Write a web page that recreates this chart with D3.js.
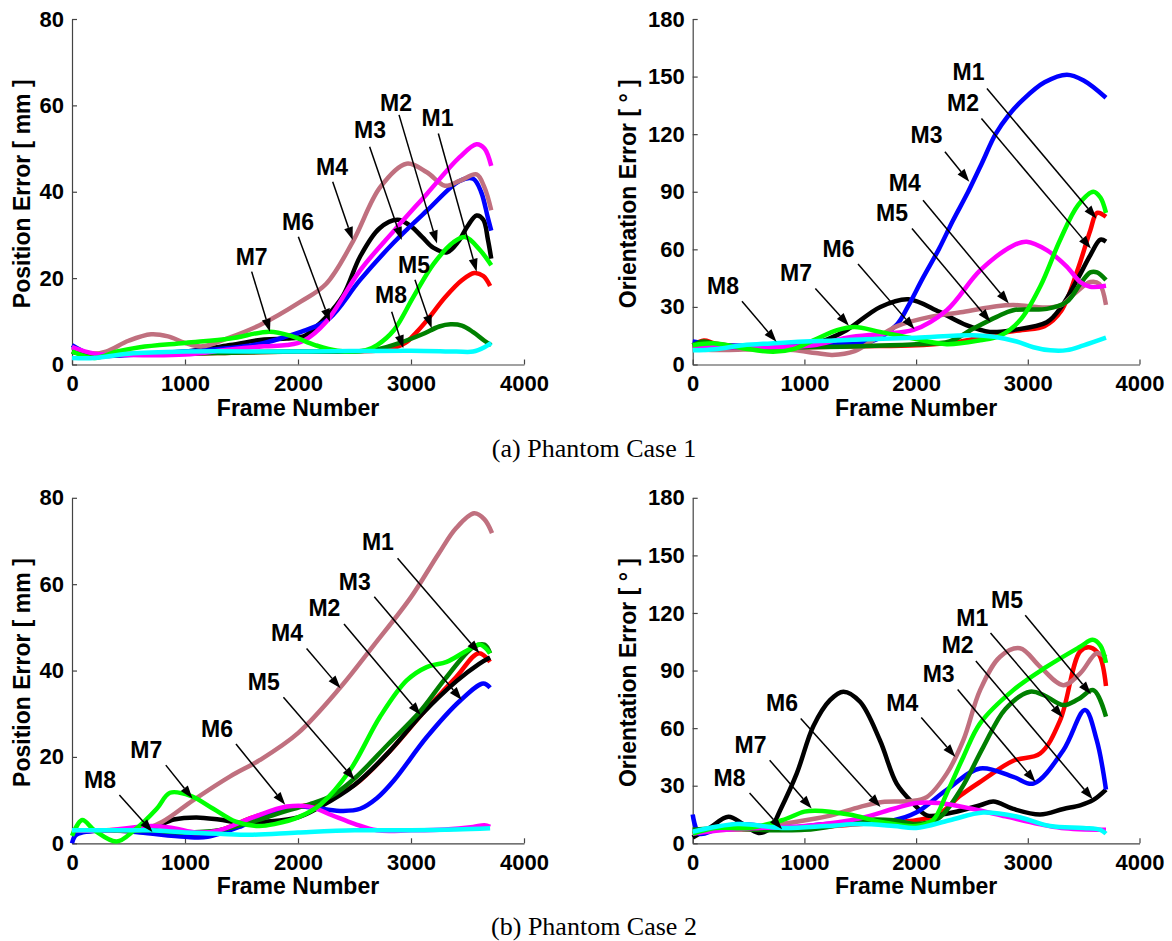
<!DOCTYPE html>
<html>
<head>
<meta charset="utf-8">
<script src="https://cdn.jsdelivr.net/npm/d3@7"></script>
<style>
  body { margin: 0; background: #fff; }
  text { font-family: "Liberation Sans", Arial, sans-serif; font-weight: bold; fill: #000; }
  .caption { font-family: "Liberation Serif", "Times New Roman", serif; font-weight: normal; }
</style>
</head>
<body>
<svg id="chart" width="1172" height="941"></svg>
<script>
const FRAME_TICKS = [0, 1000, 2000, 3000, 4000]
const POS_TICKS = [0, 20, 40, 60, 80]
const ORI_TICKS = [0, 30, 60, 90, 120, 150, 180]
const METHODS = ["M1", "M2", "M3", "M4", "M5", "M6", "M7", "M8"]
const METHOD_COLORS = ["#ff0000", "#000000", "#0000ff", "#c0707f", "#008000", "#ff00ff", "#00ff00", "#00ffff"]

// ---- (a) case 1, position error [mm] : [frame, value]
const pos1_M1 = [[0,3],[200,2.5],[600,2.5],[1000,2.5],[1500,2.8],[2000,3],[2400,3],[2800,3.5],[2950,5],[3050,7.5],[3150,10.5],[3300,15.5],[3450,19.5],[3560,21.2],[3640,20.5],[3700,18.2]]
const pos1_M2 = [[0,3],[200,2],[600,2.5],[1000,3],[1400,4.5],[1700,5.8],[1900,6],[2050,6.5],[2150,8.5],[2250,11],[2400,16],[2550,25],[2720,31.5],[2880,33.5],[3000,32],[3100,29.5],[3200,27],[3320,26],[3420,28.5],[3500,32],[3580,34.5],[3640,33.5],[3680,29],[3710,24.5]]
const pos1_M3 = [[0,4.5],[150,2.5],[300,2],[700,2.5],[1000,3],[1400,3.8],[1700,5],[1900,6.5],[2050,7.8],[2270,10.5],[2550,19.6],[2850,28.3],[3140,35.6],[3430,42.5],[3550,43],[3620,40],[3680,34],[3710,31]]
const pos1_M4 = [[0,4],[150,2.5],[300,3],[500,5.5],[700,7],[850,6.5],[1000,5],[1150,4.2],[1370,6],[1660,9.1],[2020,14.5],[2250,18.7],[2490,28.7],[2726,41],[2960,46.5],[3140,44.5],[3300,41.4],[3430,42.5],[3580,44],[3650,41],[3710,35.7]]
const pos1_M5 = [[0,3],[200,2],[600,2.5],[1000,2.5],[1500,2.8],[2000,3],[2500,3],[2700,3.5],[2900,5],[3100,7],[3250,8.8],[3350,9.3],[3450,9],[3550,7.5],[3650,5.5],[3710,4.5]]
const pos1_M6 = [[0,4],[200,2.5],[500,2.2],[1000,2.3],[1400,3.5],[1700,4.2],[1900,4.5],[2050,5.5],[2250,9.9],[2550,21.8],[2850,31],[3140,39.5],[3430,48],[3580,51],[3650,50],[3710,46]]
const pos1_M7 = [[0,3],[200,1.5],[400,3],[600,4],[1000,5],[1400,6],[1750,7.6],[1950,6.5],[2150,4.5],[2350,3.2],[2600,3.3],[2700,4.5],[2850,8],[3020,15.6],[3200,23.3],[3375,28.3],[3480,29.5],[3610,26.5],[3710,23]]
const pos1_M8 = [[0,1.5],[200,1.5],[500,2.5],[1000,3],[2000,3],[3000,3.2],[3400,3],[3550,3],[3650,4],[3710,5]]

// ---- (a) case 1, orientation error [deg]
const ori1_M1 = [[0,10],[100,12.5],[200,11],[500,9],[1000,9],[1500,9.5],[2000,10],[2400,12],[2700,16],[2950,18],[3150,20],[3300,28],[3450,50],[3560,70],[3620,79],[3700,77]]
const ori1_M2 = [[0,10],[500,9],[1000,10],[1200,13],[1380,18],[1680,30],[1930,34],[2210,27.4],[2450,20.5],[2660,17],[2870,18],[3170,22],[3300,30],[3450,45],[3560,57],[3650,65],[3700,64]]
const ori1_M3 = [[0,12],[300,10],[800,10],[1300,10.5],[1600,12],[1830,21],[1925,30],[2060,45],[2203,60],[2330,75],[2466,90],[2590,105],[2711,120],[2830,130],[2957,138],[3150,147],[3350,151],[3500,148],[3700,139]]
const ori1_M4 = [[0,8],[300,7.5],[600,8],[900,7.5],[1100,6],[1250,5],[1450,7],[1650,14],[1830,20],[2125,24.8],[2420,27.4],[2720,30.4],[2870,31],[3170,29.7],[3300,31],[3420,37],[3560,43],[3640,42],[3700,31]]
const ori1_M5 = [[0,10],[100,12],[300,9],[700,9],[1000,9],[1500,9.5],[2000,10.5],[2300,12],[2513,18.7],[2722,24.8],[2870,28.3],[3170,29],[3350,32.7],[3470,42],[3560,48],[3620,48],[3700,44]]
const ori1_M6 = [[0,10],[300,9],[780,9.2],[1080,10],[1380,14],[1700,16],[1976,18],[2274,28.3],[2573,49],[2870,62],[2990,64],[3170,59.6],[3349,51],[3469,43],[3558,40.5],[3700,41]]
const ori1_M7 = [[0,10],[200,11],[450,8.5],[720,6.6],[900,8],[1080,12.6],[1300,18],[1450,19.5],[1676,17],[1976,13.5],[2274,10.6],[2573,12.6],[2752,15],[2930,23],[3110,40.5],[3290,65],[3450,83],[3587,90],[3650,87],[3700,79]]
const ori1_M8 = [[0,7.4],[200,8],[450,10],[700,11],[1000,12],[1500,13],[2000,14],[2500,15.3],[2700,14.5],[2900,12],[3050,9],[3200,7.4],[3350,7.5],[3500,10],[3700,14]]

// ---- (b) case 2, position error [mm]
const pos2_M1 = [[0,2.5],[300,3],[700,3],[1000,2],[1300,3],[1600,6],[1800,7.5],[2000,8.5],[2200,9.5],[2500,13.5],[2800,21],[3100,30],[3400,38.5],[3600,44],[3700,42]]
const pos2_M2 = [[0,3],[400,3],[700,3.5],[900,5.5],[1100,6],[1300,5.5],[1500,4.7],[1700,5],[2000,6],[2200,8.5],[2500,13.5],[2800,21],[3100,30],[3400,37.5],[3600,41.5],[3700,43]]
const pos2_M3 = [[0,0],[40,2],[300,3],[600,2.5],[1000,1.5],[1200,1.5],[1500,4],[1800,7.5],[2000,8.5],[2200,8],[2400,7.5],[2550,8],[2700,10.5],[2850,14.6],[3140,24.6],[3434,33],[3640,37],[3700,36]]
const pos2_M4 = [[0,3],[300,3],[600,3],[800,5],[1074,10],[1400,15.5],[1664,19.3],[2000,25.5],[2372,36],[2675,46],[3000,57],[3243,67],[3400,73],[3559,76.4],[3650,75],[3717,71.8]]
const pos2_M5 = [[0,3],[400,3],[700,3],[1000,2.5],[1300,3],[1600,5],[1900,7.5],[2100,9],[2300,11],[2500,15],[2800,23],[3080,30.5],[3300,38],[3550,45.4],[3650,46],[3700,44]]
const pos2_M6 = [[0,3],[300,3],[700,4],[900,3.5],[1100,2.5],[1300,3],[1600,6],[1900,8.5],[2100,8.5],[2300,6.5],[2500,4.5],[2700,3],[3000,3],[3300,3.2],[3550,3.8],[3650,4.2],[3700,3.8]]
const pos2_M7 = [[0,1.7],[90,5.4],[200,3],[395,0.4],[550,3],[750,8],[867,11.7],[1050,11],[1250,8],[1450,5],[1650,4],[1800,4.5],[2000,6],[2200,9],[2460,16.9],[2726,29.3],[2962,37.7],[3139,40.8],[3316,42],[3493,44.6],[3611,46],[3700,44]]
const pos2_M8 = [[0,3],[300,3],[700,3],[1000,2.5],[1300,2.2],[1600,2],[2000,2.5],[2500,3],[3000,3],[3400,3.2],[3700,3.5]]

// ---- (b) case 2, orientation error [deg]
const ori2_M1 = [[0,6],[300,8],[600,7],[1000,8],[1500,10],[2000,12],[2200,15],[2400,25],[2600,33],[2870,43],[3110,46.8],[3289,64],[3469,100],[3560,102],[3640,98],[3700,82]]
const ori2_M2 = [[0,3],[150,8],[320,13.8],[450,10],[588,5.4],[700,8],[781,17],[931,36.3],[1080,61],[1229,74.6],[1349,79],[1498,73.7],[1676,53.7],[1826,31.1],[1976,20.7],[2095,14.6],[2274,15.4],[2573,19.8],[2692,21.8],[2870,17.9],[3110,15],[3318,17.9],[3469,19.8],[3587,22.6],[3700,28]]
const ori2_M3 = [[0,15],[60,5],[200,7],[400,10],[800,8],[1200,10],[1500,11],[1800,12],[2000,16],[2274,27.9],[2573,39],[2870,34.6],[3050,31.1],[3318,48.5],[3512,69.4],[3617,53.7],[3700,28]]
const ori2_M4 = [[0,6],[300,7],[600,7.5],[800,10],[1200,14],[1500,19],[1700,21.5],[1950,22],[2095,24.1],[2274,36.3],[2423,53.7],[2573,79.8],[2752,97.2],[2930,101.6],[3110,92],[3318,82.4],[3469,88.5],[3617,99],[3700,97]]
const ori2_M5 = [[0,7],[300,8],[600,7],[1000,7],[1300,9.5],[1500,12],[1800,12],[2000,10],[2200,13],[2400,28],[2600,50],[2800,70],[3020,79],[3150,77],[3318,72],[3450,75],[3587,79.8],[3700,66]]
const ori2_M6 = [[0,5],[300,7],[600,8],[1000,9],[1500,13],[1800,18],[2000,21],[2200,21],[2500,18],[2800,14],[3100,10],[3300,8],[3700,7]]
const ori2_M7 = [[0,5],[200,8],[500,8],[800,12],[1000,16.5],[1100,17],[1400,15],[1700,11],[2000,9],[2150,12],[2274,26],[2423,45],[2573,62.5],[2870,79.8],[3170,92],[3469,102.4],[3580,106],[3650,103],[3700,94]]
const ori2_M8 = [[0,6],[400,10],[800,8],[1200,9],[1500,10],[1800,9],[2000,8],[2300,12],[2600,16],[2900,14],[3200,9],[3500,8],[3650,7],[3700,5]]

// annotations: [name, labelFrame, labelValue, fromFrame, fromValue, tipFrame, tipValue]
const pos1_notes = [["M1",3235,57.1,3242,53.5,3581,21.5],["M2",2867,60.5,2894,57.8,3230,28],["M3",2637,54.3,2634,50.4,2918,28.8],["M4",2301,45.8,2307,42.3,2484,28.8],["M6",2000,33.1,2003,29.6,2283,9.9],["M7",1590,25,1590,21.5,1752,7.6],["M5",3027,23,3035,19.6,3183,8.4],["M8",2823,16.1,2829,12.2,2932,3.75]]
const ori1_notes = [["M1",2470,152.5,2634,143.8,3614,76.1],["M2",2420,136,2585,128.2,3565,60.4],["M3",2094,119.5,2258,110.8,2476,95.2],["M4",1898,94.3,2062,85.6,2830,31.8],["M5",1784,78.7,1963,70.9,2666,22.2],["M6",1305,60.1,1480,52.3,1986,18.4],["M7",925,47.8,1098,39.6,1399,20.2],["M8",271,40.8,441,32.9,750,11.8]]
const pos2_notes = [["M1",2707,69.8,2881,66,3606,44],["M3",2502,60.6,2675,57.1,3449,33.2],["M2",2234,54.4,2407,50.8,3086,29.7],["M4",1903,48.6,2076,45.1,2376,35.9],["M5",1697,37.4,1871,33.8,2502,14.7],["M6",1283,26.5,1451,23,1887,8.9],["M7",657,21.6,830,18.1,1066,10.4],["M8",248,14.7,419,11.2,712,2.6]]
const ori2_notes = [["M5",2814,126.6,2977,118.8,3565,77.6],["M1",2503,117.6,2666,109.6,3313,65.5],["M2",2372,103.2,2535,95,3581,22.9],["M3",2202,88.1,2372,80.1,3069,31.9],["M4",1876,73,2046,65.5,2352,45],["M6",800,73,967,65,1681,18.9],["M7",517,51.1,689,43.3,1065,18.1],["M8",330,34.2,509,26.2,800,7.3]]

const panels = [
    {x: [72, 524], y: [364.5, 19], yMax: 80, yTicks: POS_TICKS, title: "Position Error [ mm ]", titleX: 22,
     series: [pos1_M1, pos1_M2, pos1_M3, pos1_M4, pos1_M5, pos1_M6, pos1_M7, pos1_M8], notes: pos1_notes},
    {x: [692.7, 1139.5], y: [364.5, 19], yMax: 180, yTicks: ORI_TICKS, title: "Orientation Error [ \u00b0 ]", titleX: 628,
     series: [ori1_M1, ori1_M2, ori1_M3, ori1_M4, ori1_M5, ori1_M6, ori1_M7, ori1_M8], notes: ori1_notes},
    {x: [72, 524], y: [843.3, 497.8], yMax: 80, yTicks: POS_TICKS, title: "Position Error [ mm ]", titleX: 22,
     series: [pos2_M1, pos2_M2, pos2_M3, pos2_M4, pos2_M5, pos2_M6, pos2_M7, pos2_M8], notes: pos2_notes},
    {x: [692.7, 1139.5], y: [843.3, 497.8], yMax: 180, yTicks: ORI_TICKS, title: "Orientation Error [ \u00b0 ]", titleX: 628,
     series: [ori2_M1, ori2_M2, ori2_M3, ori2_M4, ori2_M5, ori2_M6, ori2_M7, ori2_M8], notes: ori2_notes}
]

const svg = d3.select("#chart")
svg.append("rect").attr("width", 1172).attr("height", 941).attr("fill", "#fff")

panels.forEach(p => drawPanel(p))

function drawPanel(p) {
    const x = d3.scaleLinear().domain([0, 4000]).range(p.x)
    const y = d3.scaleLinear().domain([0, p.yMax]).range(p.y)
    const g = svg.append("g")

    // axes, MATLAB style: ticks pointing inward, no box
    const xAxis = g.append("g")
        .attr("transform", `translate(0, ${p.y[0]})`)
        .call(d3.axisBottom(x).tickValues(FRAME_TICKS).tickFormat(d3.format("d"))
            .tickSizeInner(-5).tickSizeOuter(0).tickPadding(9))
    const yAxis = g.append("g")
        .attr("transform", `translate(${p.x[0]}, 0)`)
        .call(d3.axisLeft(y).tickValues(p.yTicks).tickFormat(d3.format("d"))
            .tickSizeInner(-5).tickSizeOuter(0).tickPadding(8))
    ;[xAxis, yAxis].forEach(a => {
        a.select(".domain").attr("stroke", "#444").attr("stroke-width", 1.2)
        a.selectAll(".tick line").attr("stroke", "#444").attr("stroke-width", 1.2)
        a.selectAll(".tick text")
            .style("font-family", '"Liberation Sans", Arial, sans-serif')
            .style("font-weight", "bold")
            .style("font-size", "22px")
            .attr("fill", "#000")
    })
    // labels sit below the axis even though ticks point inward
    xAxis.selectAll(".tick text").attr("y", 11).attr("dy", "0.71em")

    g.append("text")
        .attr("x", (p.x[0] + p.x[1]) / 2)
        .attr("y", p.y[0] + 51)
        .attr("text-anchor", "middle")
        .style("font-size", "23px")
        .text("Frame Number")

    g.append("text")
        .attr("transform", `translate(${p.titleX}, ${(p.y[0] + p.y[1]) / 2 + 2}) rotate(-90)`)
        .attr("text-anchor", "middle")
        .attr("dominant-baseline", "central")
        .style("font-size", "23px")
        .text(p.title)

    const line = d3.line()
        .x(d => x(d[0]))
        .y(d => y(d[1]))
        .curve(d3.curveCatmullRom.alpha(0.5))

    g.append("g").selectAll("path")
        .data(p.series)
        .join("path")
        .attr("d", line)
        .attr("fill", "none")
        .attr("stroke", (d, i) => METHOD_COLORS[i])
        .attr("stroke-width", 4.5)
        .attr("stroke-linejoin", "round")

    // annotation arrows
    const notes = g.append("g")
    p.notes.forEach(n => {
        const sx = x(n[3]), sy = y(n[4]), tx = x(n[5]), ty = y(n[6])
        const len = Math.hypot(tx - sx, ty - sy)
        const ux = (tx - sx) / len, uy = (ty - sy) / len
        const bx = tx - ux * 13, by = ty - uy * 13
        notes.append("line")
            .attr("x1", sx).attr("y1", sy).attr("x2", bx).attr("y2", by)
            .attr("stroke", "#000").attr("stroke-width", 1.5)
        notes.append("polygon")
            .attr("points", [[tx, ty], [bx - uy * 4.5, by + ux * 4.5], [bx + uy * 4.5, by - ux * 4.5]].join(" "))
            .attr("fill", "#000")
        notes.append("text")
            .attr("x", x(n[1])).attr("y", y(n[2]))
            .attr("text-anchor", "middle")
            .attr("dominant-baseline", "central")
            .style("font-size", "23px")
            .text(n[0])
    })
}

svg.append("text").attr("class", "caption")
    .attr("x", 594).attr("y", 457).attr("text-anchor", "middle")
    .style("font-size", "26px")
    .text("(a) Phantom Case 1")
svg.append("text").attr("class", "caption")
    .attr("x", 594).attr("y", 935).attr("text-anchor", "middle")
    .style("font-size", "26px")
    .text("(b) Phantom Case 2")
</script>
</body>
</html>
